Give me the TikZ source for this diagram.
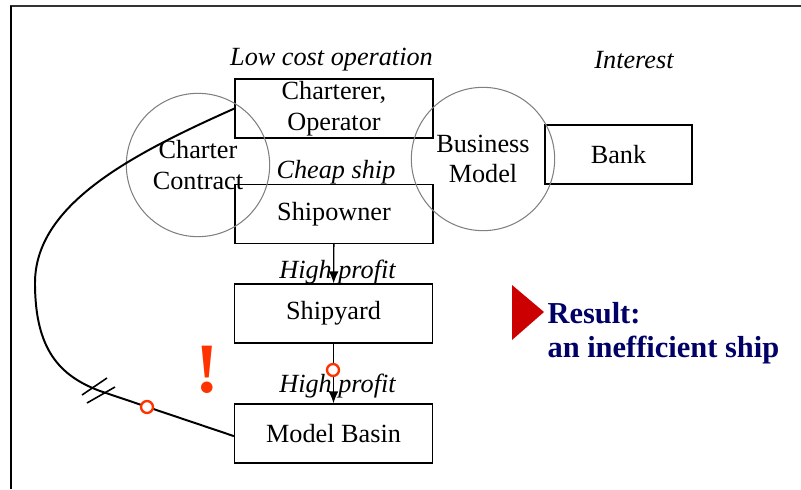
\documentclass[tikz,border=0pt]{standalone}
\usepackage{fontspec}
\setmainfont{Liberation Serif}
\usetikzlibrary{arrows.meta,positioning}
\definecolor{alertred}{RGB}{255,51,0}
\definecolor{pointred}{RGB}{204,0,0}
\definecolor{resultblue}{RGB}{0,0,102}
\tikzset{
  party/.style={draw, line width=0.5pt, minimum width=2.65cm, minimum height=0.79cm,
    inner sep=0pt, align=center, font=\fontsize{10}{11.6}\selectfont},
  bond/.style={circle, draw=gray, line width=0.4pt, minimum size=1.92cm, inner sep=0pt,
    align=center, font=\fontsize{10}{11.6}\selectfont},
  motive/.style={inner sep=0pt, font=\fontsize{10}{12}\selectfont\itshape},
  flow/.style={-{Latex[length=1.6mm,width=1.3mm]}, line width=0.5pt},
  ring/.style={circle, draw=alertred, line width=0.9pt, fill=white, minimum size=0.16cm, inner sep=0pt}
}

\begin{document}
\begin{tikzpicture}[x=0.0134cm, y=-0.0134cm]
		\useasboundingbox (0,0) rectangle (801,489);
		% Frame
		\draw[gray!40!black, line width=0.9pt] (10,6) -- (801,6);
		\draw[line width=1.1pt] (11,6) -- (11,489);

		% Define nodes
		\node[party] (charterer) at (334,108.5) {Charterer,\\Operator};
		\node[party] (shipowner) at (334,214) {Shipowner};
		\node[party] (shipyard) at (333.5,313.5) {Shipyard};
		\node[party] (basin) at (333.5,433.5) {Model Basin};
		\node[party, minimum width=1.97cm] (bank) at (618.5,154.5) {Bank};
		\node[bond] (contract) at (198,165) {Charter\\Contract};
		\node[bond] (business) at (483,159) {Business\\Model};

		\node[motive] (lowcost) at (331.5,60) {Low cost operation};
		\node[motive] (interest) at (634,60) {Interest};
		\node[motive] (cheap) at (336,172) {Cheap ship};
		\node[motive] (profita) at (337.5,272) {High profit};
		\node[motive] (profitb) at (337.5,386) {High profit};

		% Connect the nodes
		\draw[flow] (shipowner) -- (shipyard);
		\draw[flow] (shipyard) -- (basin);
		\coordinate (bend) at (100,391);
		\draw[line width=0.75pt] (charterer.west) .. controls (130,155) and (35,205) .. (35,283)
			.. controls (35,350) and (60,376) .. (bend) -- ([yshift=-1pt]basin.west);
		\draw[line width=0.6pt] (82,395) -- (107,378);
		\draw[line width=0.6pt] (87,403) -- (115,387);

		% Warnings
		\node[ring] (ringa) at (333,370) {};
		\node[ring] (ringb) at (147,407) {};
		\node[text=alertred, font=\fontsize{27}{27}\selectfont\bfseries] (alert) at (207,370) {!};

		% Result
		\fill[pointred] (512,285) -- (544,312) -- (512,340) -- cycle;
		\node[anchor=west, inner sep=0pt, align=left, text=resultblue,
			font=\fontsize{11.6}{13}\selectfont\bfseries] (result) at (547,333) {Result:\\an inefficient ship};
	\end{tikzpicture}
\end{document}
